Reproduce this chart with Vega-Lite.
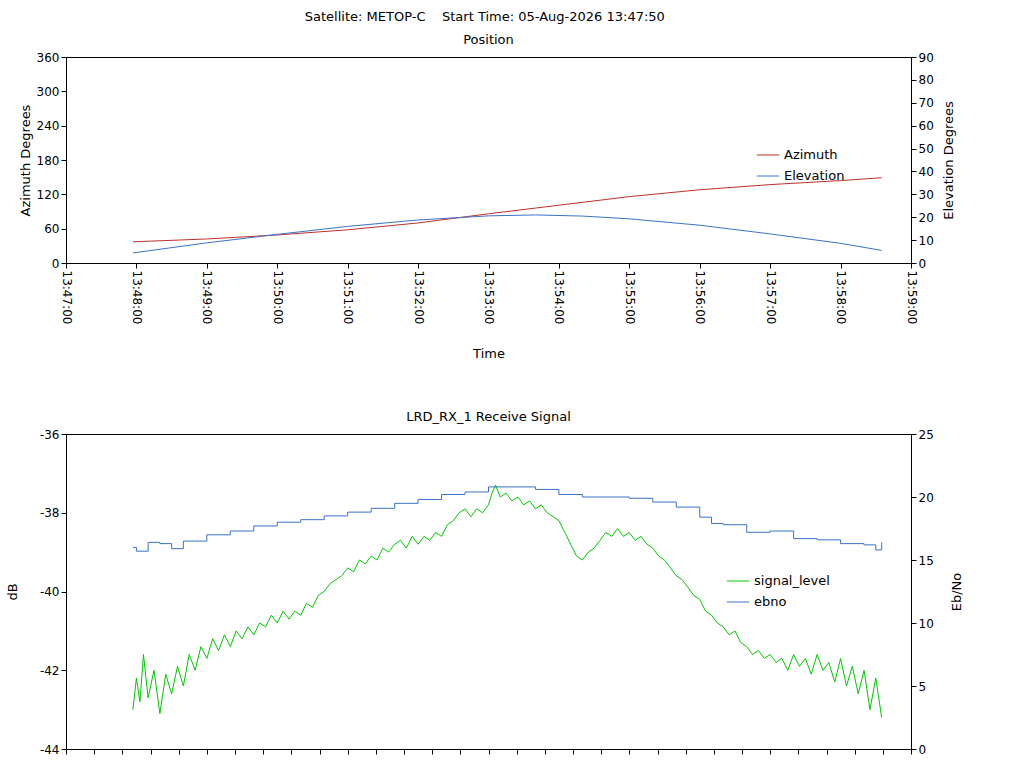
{
  "$schema": "https://vega.github.io/schema/vega-lite/v6.json",
  "title": {"text": "Satellite: METOP-C\u00a0\u00a0\u00a0\u00a0Start Time: 05-Aug-2026 13:47:50", "anchor": "middle", "fontSize": 13, "fontWeight": "normal", "font": "DejaVu Sans", "offset": 10},
  "padding": {"left": 5, "top": 10, "right": 5, "bottom": 0},
  "config": {
    "font": "DejaVu Sans",
    "view": {"stroke": "black"},
    "axis": {"grid": false, "domainColor": "black", "tickColor": "black", "labelFontSize": 12, "titleFontSize": 13, "titleFontWeight": "normal", "labelColor": "black", "titleColor": "black"},
    "title": {"fontSize": 13, "fontWeight": "normal"},
    "legend": {"labelFontSize": 13, "symbolType": "stroke", "symbolStrokeWidth": 1, "symbolSize": 500}
  },
  "datasets": {
    "pos": [
      {"sec": 57, "series": "Azimuth", "v": 37}, {"sec": 120, "series": "Azimuth", "v": 42}, {"sec": 180, "series": "Azimuth", "v": 49},
      {"sec": 240, "series": "Azimuth", "v": 58}, {"sec": 300, "series": "Azimuth", "v": 70}, {"sec": 360, "series": "Azimuth", "v": 86},
      {"sec": 420, "series": "Azimuth", "v": 101}, {"sec": 480, "series": "Azimuth", "v": 116}, {"sec": 540, "series": "Azimuth", "v": 128},
      {"sec": 600, "series": "Azimuth", "v": 137}, {"sec": 660, "series": "Azimuth", "v": 144}, {"sec": 695, "series": "Azimuth", "v": 149},
      {"sec": 57, "series": "Elevation", "v": 4.4}, {"sec": 120, "series": "Elevation", "v": 8.8}, {"sec": 180, "series": "Elevation", "v": 12.5},
      {"sec": 240, "series": "Elevation", "v": 16}, {"sec": 300, "series": "Elevation", "v": 18.8}, {"sec": 360, "series": "Elevation", "v": 20.6},
      {"sec": 400, "series": "Elevation", "v": 21}, {"sec": 440, "series": "Elevation", "v": 20.5}, {"sec": 480, "series": "Elevation", "v": 19.3},
      {"sec": 540, "series": "Elevation", "v": 16.5}, {"sec": 600, "series": "Elevation", "v": 12.7}, {"sec": 660, "series": "Elevation", "v": 8.6},
      {"sec": 695, "series": "Elevation", "v": 5.5}
    ],
    "sig": [
      {"sec":57,"v":-43.0},{"sec":60,"v":-42.2},{"sec":63,"v":-42.8},{"sec":66,"v":-41.6},{"sec":70,"v":-42.7},{"sec":75,"v":-42.0},{"sec":80,"v":-43.1},{"sec":85,"v":-42.1},{"sec":90,"v":-42.6},{"sec":95,"v":-41.9},
      {"sec":100,"v":-42.4},{"sec":105,"v":-41.6},{"sec":110,"v":-42.0},{"sec":115,"v":-41.4},{"sec":120,"v":-41.7},{"sec":125,"v":-41.2},{"sec":130,"v":-41.5},{"sec":135,"v":-41.1},{"sec":140,"v":-41.4},{"sec":145,"v":-41.0},
      {"sec":150,"v":-41.2},{"sec":155,"v":-40.9},{"sec":160,"v":-41.1},{"sec":165,"v":-40.8},{"sec":170,"v":-40.9},{"sec":175,"v":-40.6},{"sec":180,"v":-40.8},{"sec":185,"v":-40.5},{"sec":190,"v":-40.7},{"sec":195,"v":-40.5},
      {"sec":200,"v":-40.6},{"sec":205,"v":-40.3},{"sec":210,"v":-40.4},{"sec":215,"v":-40.1},{"sec":220,"v":-40.0},{"sec":225,"v":-39.8},{"sec":230,"v":-39.7},{"sec":235,"v":-39.6},{"sec":240,"v":-39.4},{"sec":245,"v":-39.5},
      {"sec":250,"v":-39.2},{"sec":255,"v":-39.3},{"sec":260,"v":-39.1},{"sec":265,"v":-39.2},{"sec":270,"v":-38.9},{"sec":275,"v":-39.0},{"sec":280,"v":-38.8},{"sec":285,"v":-38.7},{"sec":290,"v":-38.9},{"sec":295,"v":-38.6},
      {"sec":300,"v":-38.8},{"sec":305,"v":-38.6},{"sec":310,"v":-38.7},{"sec":315,"v":-38.5},{"sec":320,"v":-38.6},{"sec":325,"v":-38.3},{"sec":330,"v":-38.2},{"sec":335,"v":-38.0},{"sec":340,"v":-37.9},{"sec":345,"v":-38.1},
      {"sec":350,"v":-37.9},{"sec":355,"v":-38.0},{"sec":360,"v":-37.8},{"sec":363,"v":-37.5},{"sec":366,"v":-37.3},{"sec":370,"v":-37.6},{"sec":375,"v":-37.5},{"sec":380,"v":-37.7},{"sec":385,"v":-37.6},{"sec":390,"v":-37.8},
      {"sec":395,"v":-37.7},{"sec":400,"v":-37.9},{"sec":405,"v":-37.8},{"sec":410,"v":-38.0},{"sec":415,"v":-38.1},{"sec":420,"v":-38.2},{"sec":425,"v":-38.5},{"sec":430,"v":-38.8},{"sec":435,"v":-39.1},{"sec":440,"v":-39.2},
      {"sec":445,"v":-39.0},{"sec":450,"v":-38.9},{"sec":455,"v":-38.7},{"sec":460,"v":-38.5},{"sec":465,"v":-38.6},{"sec":470,"v":-38.4},{"sec":475,"v":-38.6},{"sec":480,"v":-38.5},{"sec":485,"v":-38.7},{"sec":490,"v":-38.6},
      {"sec":495,"v":-38.8},{"sec":500,"v":-38.9},{"sec":505,"v":-39.1},{"sec":510,"v":-39.2},{"sec":515,"v":-39.4},{"sec":520,"v":-39.6},{"sec":525,"v":-39.7},{"sec":530,"v":-39.9},{"sec":535,"v":-40.1},{"sec":540,"v":-40.2},
      {"sec":545,"v":-40.5},{"sec":550,"v":-40.6},{"sec":555,"v":-40.8},{"sec":560,"v":-40.9},{"sec":565,"v":-41.1},{"sec":570,"v":-41.0},{"sec":575,"v":-41.3},{"sec":580,"v":-41.4},{"sec":585,"v":-41.6},{"sec":590,"v":-41.5},
      {"sec":595,"v":-41.7},{"sec":600,"v":-41.6},{"sec":605,"v":-41.8},{"sec":610,"v":-41.7},{"sec":615,"v":-42.0},{"sec":620,"v":-41.6},{"sec":625,"v":-41.9},{"sec":630,"v":-41.7},{"sec":635,"v":-42.1},{"sec":640,"v":-41.6},
      {"sec":645,"v":-42.0},{"sec":650,"v":-41.8},{"sec":655,"v":-42.3},{"sec":660,"v":-41.7},{"sec":665,"v":-42.4},{"sec":670,"v":-41.9},{"sec":675,"v":-42.6},{"sec":680,"v":-42.0},{"sec":685,"v":-43.0},{"sec":690,"v":-42.2},{"sec":695,"v":-43.2}
    ],
    "ebno": [
      {"sec":57,"v":16.0},{"sec":60,"v":15.7},{"sec":70,"v":16.4},{"sec":80,"v":16.3},{"sec":90,"v":15.9},{"sec":100,"v":16.5},{"sec":120,"v":17.0},{"sec":140,"v":17.3},{"sec":160,"v":17.7},{"sec":180,"v":18.0},
      {"sec":200,"v":18.2},{"sec":220,"v":18.5},{"sec":240,"v":18.8},{"sec":260,"v":19.1},{"sec":280,"v":19.5},{"sec":300,"v":19.8},{"sec":320,"v":20.2},{"sec":340,"v":20.4},{"sec":360,"v":20.8},{"sec":380,"v":20.8},
      {"sec":400,"v":20.6},{"sec":420,"v":20.2},{"sec":440,"v":20.0},{"sec":460,"v":20.0},{"sec":480,"v":19.9},{"sec":500,"v":19.6},{"sec":520,"v":19.2},{"sec":540,"v":18.4},{"sec":550,"v":17.9},{"sec":560,"v":17.8},
      {"sec":580,"v":17.2},{"sec":600,"v":17.3},{"sec":620,"v":16.7},{"sec":640,"v":16.6},{"sec":660,"v":16.3},{"sec":680,"v":16.2},{"sec":690,"v":15.8},{"sec":695,"v":16.4}
    ]
  },
  "vconcat": [
    {
      "title": {"text": "Position", "offset": 4},
      "width": 845,
      "height": 206,
      "data": {"name": "pos"},
      "encoding": {
        "x": {"field": "sec", "type": "quantitative", "title": "Time", "scale": {"domain": [0, 720], "nice": false},
          "axis": {"values": [0,60,120,180,240,300,360,420,480,540,600,660,720], "labelAngle": 90, "labelAlign": "left", "labelBaseline": "middle",
            "labelExpr": "'13:' + (47 + floor(datum.value / 60)) + ':00'", "titlePadding": 24, "labelFlush": false}},
        "color": {"field": "series", "type": "nominal", "scale": {"domain": ["Azimuth", "Elevation"], "range": ["#c0302a", "#3a72c8"]},
          "legend": {"title": null, "orient": "none", "legendX": 690, "legendY": 86}}
      },
      "layer": [
        {"transform": [{"filter": "datum.series == 'Azimuth'"}], "mark": {"type": "line", "strokeWidth": 1},
          "encoding": {"y": {"field": "v", "type": "quantitative", "title": "Azimuth Degrees", "scale": {"domain": [0, 360]}, "axis": {"values": [0,60,120,180,240,300,360]}}}},
        {"transform": [{"filter": "datum.series == 'Elevation'"}], "mark": {"type": "line", "strokeWidth": 1},
          "encoding": {"y": {"field": "v", "type": "quantitative", "title": "Elevation Degrees", "scale": {"domain": [0, 90]}, "axis": {"orient": "right", "titleAngle": 270, "titlePadding": 22, "values": [0,10,20,30,40,50,60,70,80,90]}}}}
      ],
      "resolve": {"scale": {"y": "independent"}}
    },
    {
      "title": {"text": "LRD_RX_1 Receive Signal", "offset": 4},
      "width": 845,
      "height": 315,
      "encoding": {
        "x": {"field": "sec", "type": "quantitative", "title": null, "scale": {"domain": [0, 720], "nice": false},
          "axis": {"labels": false, "values": [0,24,48,72,96,120,144,168,192,216,240,264,288,312,336,360,384,408,432,456,480,504,528,552,576,600,624,648,672,696,720]}}
      },
      "layer": [
        {"data": {"name": "sig"}, "transform": [{"calculate": "'signal_level'", "as": "series"}], "mark": {"type": "line", "strokeWidth": 1},
          "encoding": {"y": {"field": "v", "type": "quantitative", "title": "dB", "scale": {"domain": [-44, -36]}, "axis": {"values": [-44,-42,-40,-38,-36], "titlePadding": 20, "labelExpr": "datum.value < 0 ? '-' + abs(datum.value) : '' + datum.value"}},
            "color": {"field": "series", "type": "nominal", "scale": {"domain": ["signal_level", "ebno"], "range": ["#00c800", "#3a72c8"]},
              "legend": {"title": null, "orient": "none", "legendX": 660, "legendY": 135}}}},
        {"data": {"name": "ebno"}, "transform": [{"calculate": "'ebno'", "as": "series"}], "mark": {"type": "line", "strokeWidth": 1, "interpolate": "step-after"},
          "encoding": {"y": {"field": "v", "type": "quantitative", "title": "Eb/No", "scale": {"domain": [0, 25]}, "axis": {"orient": "right", "titleAngle": 270, "values": [0,5,10,15,20,25], "titlePadding": 30}},
            "color": {"field": "series", "type": "nominal"}}}
      ],
      "resolve": {"scale": {"y": "independent"}}
    }
  ],
  "spacing": 48,
  "resolve": {"scale": {"color": "independent"}}
}
